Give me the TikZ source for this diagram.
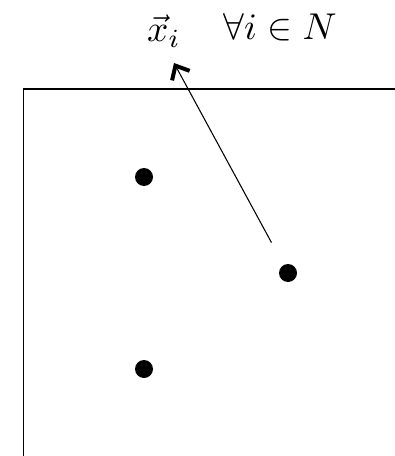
\documentclass[tikz,border=0pt]{standalone}
\usepackage{graphicx}
\usepackage{tikz}
\usetikzlibrary{arrows.meta,positioning}

\newcommand{\biglbl}[1]{\scalebox{2.8}{#1}}

\begin{document}
\begin{tikzpicture}[x=0.75pt, y=-0.75pt,
    dot/.style={circle, fill=black, inner sep=0pt, minimum size=13.5pt},
    axis/.style={line width=0.9pt},
    arrow/.style={-{Straight Barb[length=8.5pt, width=15pt, line width=3pt]}, line width=0.8pt},
    lbl/.style={inner sep=0pt}
]
\useasboundingbox (0,0) rectangle (395,456);

% Frame corner
\coordinate (corner) at (23.5,89);
\draw[axis] (395,89) -- (corner) -- (23.5,456);

% Points
\node[dot] (p1) at (144,177) {};
\node[dot] (p2) at (288,273) {};
\node[dot] (p3) at (144,369) {};

% Labels
\node[lbl] (xi) at (164,31) {\biglbl{$\vec{x}_{i}$}};
\node[lbl] (all) at (280,27) {\biglbl{$\forall i\;{\in}\;N$}};

% Arrow
\coordinate (tip) at (174,63);
\draw[arrow, shorten <=19pt] (p2) -- (tip);

\end{tikzpicture}
\end{document}
